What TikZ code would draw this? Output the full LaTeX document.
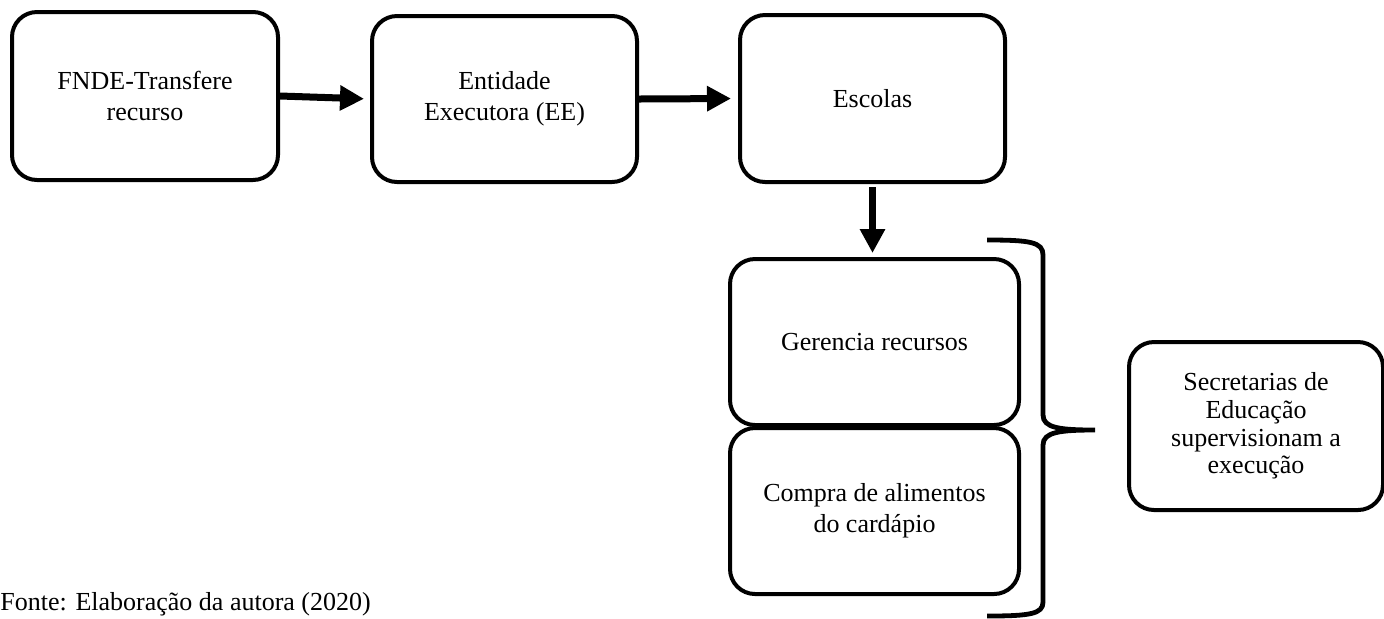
\documentclass[tikz,border=0pt]{standalone}
\usepackage{fontspec}
\setmainfont{Liberation Serif}
\usetikzlibrary{arrows.meta}
\begin{document}
\begin{tikzpicture}[x=0.5pt,y=-0.5pt,
  box/.style={draw,line width=2pt,rounded corners=12.5pt,align=center,
    inner sep=0pt,font=\fontsize{13}{15.5}\selectfont},
  flow/.style={line width=3.5pt,-{Triangle[length=12pt,width=12pt]}},
  brace/.style={line width=2.4pt}]
\useasboundingbox (0,0) rectangle (1384,618);
\node[box,minimum width=266*0.5pt,minimum height=168*0.5pt] (b1) at (145,96) {FNDE-Transfere\\recurso};
\node[box,minimum width=265*0.5pt,minimum height=166*0.5pt] (b2) at (504.5,99) {Entidade\\Executora (EE)};
\node[box,minimum width=265*0.5pt,minimum height=167*0.5pt] (b3) at (872.5,98.5) {Escolas};
\node[box,minimum width=289*0.5pt,minimum height=166*0.5pt] (g) at (874.5,342) {Gerencia recursos};
\node[box,minimum width=289*0.5pt,minimum height=166*0.5pt] (c) at (874.5,511) {Compra de alimentos\\do cardápio};
\node[box,minimum width=254*0.5pt,minimum height=168*0.5pt,font=\fontsize{13}{13.9}\selectfont] (s) at (1256,426) {Secretarias de\\Educação\\supervisionam a\\execução};
\node[anchor=base west,inner sep=0pt,font=\fontsize{13}{15.5}\selectfont] (f) at (0,610) {Fonte: Elaboração da autora (2020)};
\draw[flow,shorten >=3pt] (b1.east) -- (b2.west);
\draw[flow,shorten >=3.5pt] (b2.east) -- (b3.west);
\draw[flow,shorten <=1.5pt,shorten >=2pt] (b3.south) -- (b3.south |- g.north);
\coordinate (bt) at (987,240);
\coordinate (bm) at (1095,430);
\coordinate (bb) at (987,616);
\draw[brace] (bt) .. controls (1030,240) and (1043,242) .. (1043,255)
  -- (1043,415) .. controls (1043,428) and (1060,430) .. (bm)
  .. controls (1060,430) and (1043,432) .. (1043,445)
  -- (1043,602) .. controls (1043,614) and (1030,616) .. (bb);
\end{tikzpicture}
\end{document}
